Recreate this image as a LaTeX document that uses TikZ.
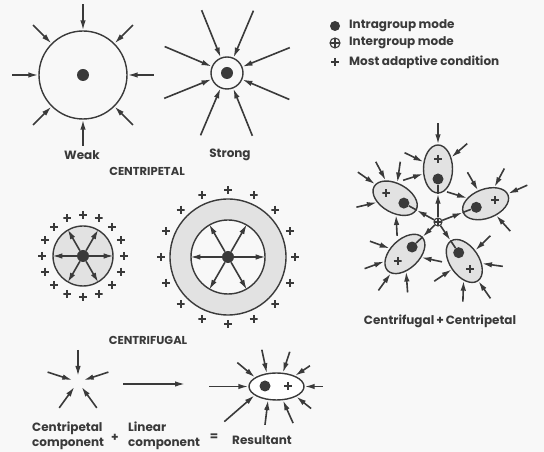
\documentclass[tikz,border=0pt]{standalone}
\usepackage{fontspec}
\setmainfont{Poppins}
\usetikzlibrary{arrows.meta,calc,shapes.geometric}
\definecolor{ink}{HTML}{3A3A3A}
\definecolor{shade}{HTML}{E2E2E2}
\definecolor{paper}{HTML}{F8F8F8}
\begin{document}
\begin{tikzpicture}[
    x=1pt, y=1pt,
    ring/.style={circle, draw=ink, line width=1.4pt, inner sep=0pt},
    pole/.style={circle, fill=ink, inner sep=0pt, minimum size=12pt},
    grp/.style={ellipse, draw=ink, line width=1.4pt, inner sep=0pt, minimum width=48pt, minimum height=29pt},
    inarr/.style={draw=ink, line width=1.6pt, -{Latex[length=10pt,width=5.5pt]}},
    plusmark/.style={inner sep=0pt, minimum size=8pt, path picture={
        \draw[ink, line width=2pt] (path picture bounding box.north) -- (path picture bounding box.south)
            (path picture bounding box.west) -- (path picture bounding box.east);}},
    oplus/.style={circle, draw=ink, line width=1.1pt, inner sep=0pt, minimum size=#1, path picture={
        \draw[ink, line width=1.1pt] (path picture bounding box.north) -- (path picture bounding box.south)
            (path picture bounding box.west) -- (path picture bounding box.east);}},
    lbl/.style={font=\bfseries\fontsize{12}{15}\selectfont, text=ink, inner sep=0pt},
    capslbl/.style={font=\bfseries\fontsize{11.5}{13}\selectfont, text=ink, inner sep=0pt}
]
\fill[paper] (0,0) rectangle (544,452);
\useasboundingbox (0,0) rectangle (544,452);

% Centripetal, weak and strong
\node[ring, minimum size=88pt] (weak) at (83,377) {};
\node[pole] (weakdot) at (weak.center) {};
\foreach \a in {0,45,...,315}
  \draw[inarr] ($(weak.\a)!-26pt!(weak.center)$) -- (weak.\a);
\node[ring, minimum size=32pt] (strong) at (227,379) {};
\node[pole] (strongdot) at (strong.center) {};
\foreach \a in {22.5,67.5,...,337.5}
  \draw[inarr] ($(strong.\a)!-51pt!(strong.center)$) -- (strong.\a);
\node[lbl] (weaklbl) at (82,297) {Weak};
\node[lbl] (stronglbl) at (230,297) {Strong};
\node[capslbl] (cptlbl) at (147,281) {CENTRIPETAL};

% Legend
\node[pole, minimum size=10pt] (lgdot) at (335,426) {};
\node[lbl, anchor=west] (lgintra) at (349,426) {Intragroup mode};
\node[oplus=10pt] (lginter) at (335,409) {};
\node[lbl, anchor=west] (lgintertxt) at (349,409) {Intergroup mode};
\node[plusmark] (lgplus) at (335,390) {};
\node[lbl, anchor=west] (lgadapt) at (349,390) {Most adaptive condition};

% Centrifugal, small and large
\node[ring, fill=shade, minimum size=60pt] (cfa) at (83,196) {};
\node[pole] (cfadot) at (cfa.center) {};
\foreach \a in {0,60,...,300}
  \draw[inarr] (cfadot) -- (cfa.\a);
\foreach \i in {0,...,15}
  \node[plusmark] (cfap\i) at ($(cfa.center)+(90+22.5*\i:41)$) {};
\node[ring, fill=shade, minimum size=116pt] (cfb) at (228,195) {};
\node[ring, fill=paper, minimum size=74pt] (cfbin) at (cfb.center) {};
\node[pole] (cfbdot) at (cfb.center) {};
\foreach \a in {0,60,...,300}
  \draw[inarr] (cfbdot) -- (cfbin.\a);
\foreach \i in {0,...,15}
  \node[plusmark] (cfbp\i) at ($(cfb.center)+(90+22.5*\i:67)$) {};
\node[capslbl] (cfglbl) at (148,112) {CENTRIFUGAL};

% Centrifugal + centripetal
\node[oplus=8pt] (hub) at (438,230) {};
\foreach \n/\t/\d in {n/90/53, w/151/49, e/21/51, sw/-136/46, se/-56/47} {
  \node[grp, fill=shade, rotate=\t] (g\n) at ($(hub)+(\t:\d)$) {};
  \node[pole, minimum size=11pt] (gdot\n) at ($(g\n.center)+(\t:-10)$) {};
  \node[plusmark] (gplus\n) at ($(g\n.center)+(\t:10)$) {};
  \draw[inarr] (hub) -- (g\n.180);
  \draw[ink, line width=1.6pt] (g\n.180) -- (gdot\n);
}
\foreach \n/\a in {n/0, n/64, n/311, n/108, w/327, w/291, w/354, w/42, w/122,
    e/142, e/99, e/41, e/3, e/291, sw/336, sw/296, sw/10, sw/50, sw/124,
    se/48, se/324, se/1, se/100, se/270}
  \draw[inarr] ($(g\n.\a)!-21pt!(g\n.center)$) -- (g\n.\a);
\node[lbl] (cflbl) at (440,131) {Centrifugal\,+\,Centripetal};

% Components and resultant
\coordinate (cpc) at (78,70);
\foreach \a in {90,162,18,234,306}
  \draw[inarr] ($(cpc)+(\a:32)$) -- ($(cpc)+(\a:6)$);
\coordinate (lina) at (123,68);
\coordinate (linb) at (185,68);
\draw[inarr] (lina) -- (linb);
\node[grp, fill=white, minimum width=55pt, minimum height=27pt] (res) at (276.5,65.5) {};
\node[pole, minimum size=11pt] (resdot) at (265,66) {};
\node[plusmark] (resplus) at (288,66) {};
\foreach \a/\b/\l in {180/180/39, 157/140/23, 126/102/24, 65/72/22, 30/34/18, 0/0/18,
    333/321/19, 295/294/25, 238/263/25, 202/221/40}
  \draw[inarr] ($(res.\a)+(\b:\l)$) -- (res.\a);
\node[lbl, align=left, anchor=west] (cpclbl) at (32,16.5) {Centripetal\\component};
\node[lbl] (plussign) at (115,14) {+};
\node[lbl, align=left, anchor=west] (linlbl) at (128,16.5) {Linear\\component};
\node[lbl] (eqsign) at (214,15) {=};
\node[lbl, anchor=west] (reslbl) at (232,12) {Resultant};
\end{tikzpicture}
\end{document}
